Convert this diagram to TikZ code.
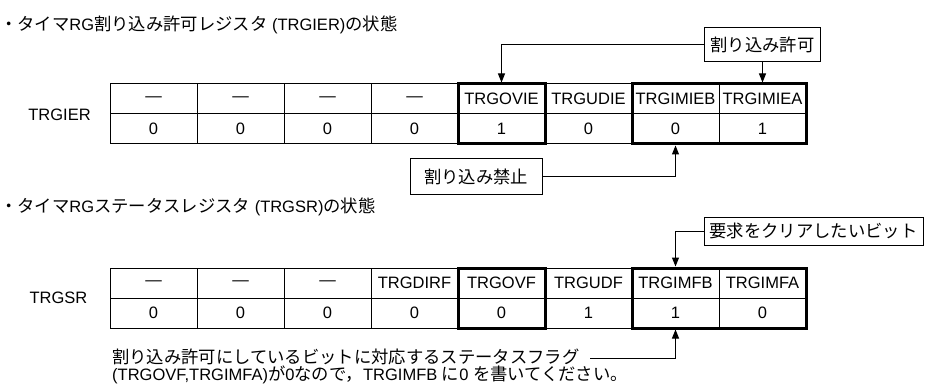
\documentclass[tikz,border=0pt]{standalone}
\usepackage{fontspec}
\setmainfont{Liberation Sans}
\newfontfamily\jp{Noto Sans CJK JP}[Scale=1.05]
\usetikzlibrary{arrows.meta}
\begin{document}
\begin{tikzpicture}[x=1pt,y=-1pt,
  every node/.style={font=\fontsize{16.5}{20}\selectfont, inner sep=0pt},
  cell/.style={draw, line width=1pt, outer sep=0pt, minimum width=87pt, minimum height=30pt},
  thickbox/.style={line width=3pt},
  callout/.style={draw, line width=1pt, outer sep=0pt},
  conn/.style={line width=1pt},
  arr/.style={conn, -{Triangle[width=7pt,length=9pt]}, shorten >=1.5pt},
]
\useasboundingbox (0,0) rectangle (928,390);
% titles
\node[anchor=west] (t1) at (0,25) {{\jp ・タイマ}RG{\jp 割り込み許可レジスタ} (TRGIER){\jp の状態}};
\node[anchor=west] (t2) at (0,207) {{\jp ・タイマ}RG{\jp ステータスレジスタ} (TRGSR){\jp の状態}};
% register labels
\node (lier) at (59.5,115) {TRGIER};
\node (lsr) at (58.5,298) {TRGSR};
% TRGIER table
\foreach \t [count=\i] in {—,—,—,—,TRGOVIE,TRGUDIE,TRGIMIEB,TRGIMIEA}
  \node[cell] (tA\i) at ({110+87*(\i-0.5)},99) {\t};
\foreach \t [count=\i] in {0,0,0,0,1,0,0,1}
  \node[cell] (tB\i) at ({110+87*(\i-0.5)},129) {\t};
\draw[thickbox] (tA5.north west) rectangle (tB5.south east);
\draw[thickbox] (tA7.north west) rectangle (tB8.south east);
% TRGSR table
\foreach \t [count=\i] in {—,—,—,TRGDIRF,TRGOVF,TRGUDF,TRGIMFB,TRGIMFA}
  \node[cell] (sA\i) at ({110+87*(\i-0.5)},283) {\t};
\foreach \t [count=\i] in {0,0,0,0,0,1,1,0}
  \node[cell] (sB\i) at ({110+87*(\i-0.5)},313) {\t};
\draw[thickbox] (sA5.north west) rectangle (sB5.south east);
\draw[thickbox] (sA7.north west) rectangle (sB8.south east);
% callouts
\node[callout, minimum width=116pt, minimum height=34pt] (kyoka) at (762.5,45) {\jp 割り込み許可};
\node[callout, minimum width=132pt, minimum height=35pt] (kinshi) at (476,176.5) {\jp 割り込み禁止};
\node[callout, minimum width=219pt, minimum height=28pt] (kuria) at (813.5,231) {\jp 要求をクリアしたいビット};
% note
\node[anchor=west] (n1) at (112,357) {\jp 割り込み許可にしているビットに対応するステータスフラグ};
\node[anchor=west] (n2) at (112,375) {(TRGOVF,TRGIMFA){\jp が}0{\jp なので，}TRGIMFB {\jp に}0 {\jp を書いてください。}};
\coordinate (nstart) at (590,358);
% connectors
\draw[arr] (kyoka.west) -| (tA5.north);
\draw[arr] (kyoka.south) -- (tA8.north);
\draw[arr] (kinshi.east) -| (tB7.south);
\draw[arr] (kuria.west) -| (sA7.north);
\draw[arr] (nstart) -| (sB7.south);
\end{tikzpicture}
\end{document}
